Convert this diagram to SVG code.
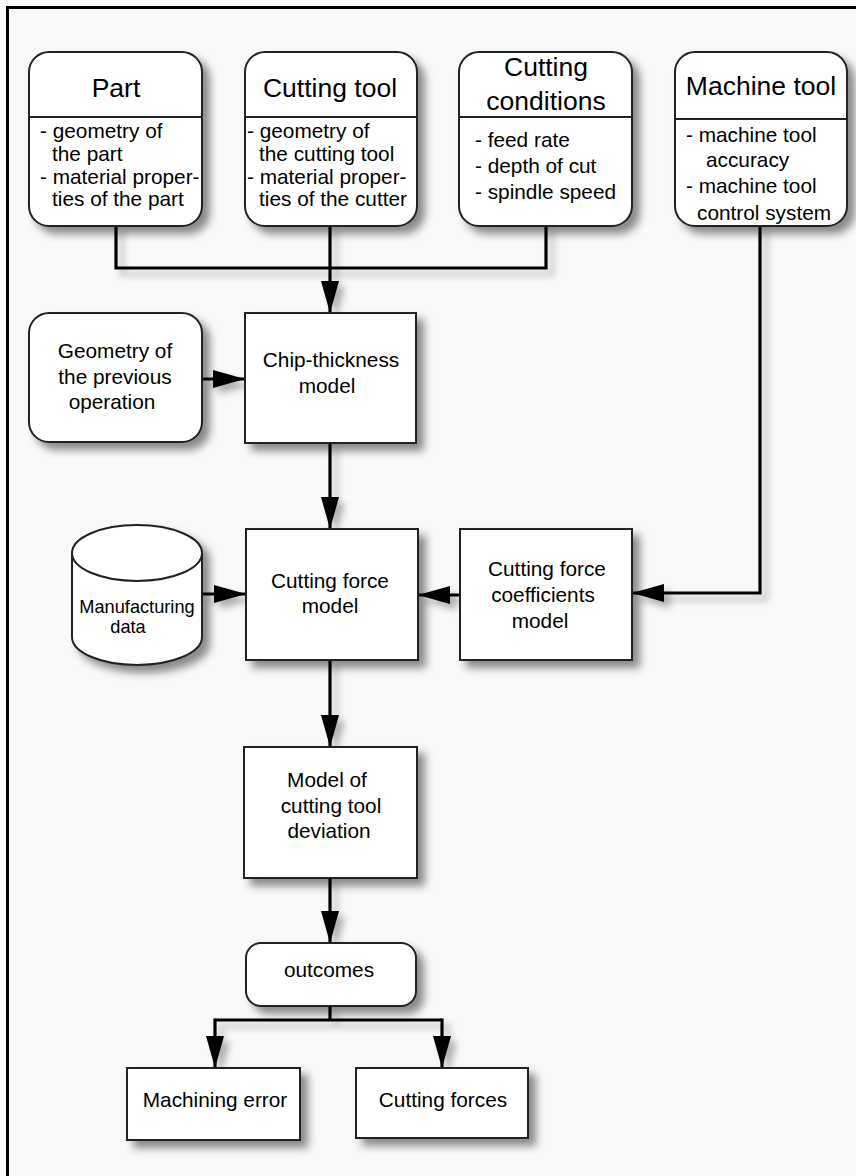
<svg xmlns="http://www.w3.org/2000/svg" width="856" height="1176" viewBox="0 0 856 1176">
<defs>
<style>
.box{fill:#ffffff;stroke:#222222;stroke-width:2;filter:url(#sh)}
.div{stroke:#222222;stroke-width:2}
.t{font-family:"Liberation Sans",Arial,sans-serif;fill:#000000}
.title{font-size:26.5px;text-anchor:middle}
.body{font-size:20.8px}
.lbl{font-size:20.8px;text-anchor:middle}
.con{fill:none;stroke:#000000;stroke-width:3.2}
</style>
<filter id="sh" x="-20%" y="-20%" width="150%" height="150%">
<feDropShadow dx="7" dy="7" stdDeviation="4" flood-color="#000000" flood-opacity="0.45"/>
</filter>
<filter id="lsh" x="-20%" y="-20%" width="150%" height="150%">
<feDropShadow dx="6" dy="6" stdDeviation="3.5" flood-color="#000000" flood-opacity="0.3"/>
</filter>
<marker id="ah" markerWidth="32" markerHeight="18" refX="32" refY="9" orient="auto" markerUnits="userSpaceOnUse">
<path d="M0,0 L32,9 L0,18 Z" fill="#000000"/>
</marker>
</defs>
<rect x="0" y="0" width="856" height="1176" fill="#fbfbfb"/>
<rect x="7.5" y="7.5" width="870" height="1190" fill="#f9f9f9" stroke="#000000" stroke-width="3"/>

<g id="connectors" filter="url(#lsh)">
<path class="con" d="M116,226 V268 H546 V226"/>
<path class="con" d="M330,226 V313" marker-end="url(#ah)"/>
<path class="con" d="M202,379 H245" marker-end="url(#ah)"/>
<path class="con" d="M330,443 V529" marker-end="url(#ah)"/>
<path class="con" d="M202,594 H246" marker-end="url(#ah)"/>
<path class="con" d="M460,595 H418" marker-end="url(#ah)"/>
<path class="con" d="M760,226 V593 H632" marker-end="url(#ah)"/>
<path class="con" d="M330,660 V747" marker-end="url(#ah)"/>
<path class="con" d="M330,878 V943" marker-end="url(#ah)"/>
<path class="con" d="M330,1006 V1020"/>
<path class="con" d="M215,1020 H442"/>
<path class="con" d="M215,1018.5 V1068" marker-end="url(#ah)"/>
<path class="con" d="M442,1018.5 V1068" marker-end="url(#ah)"/>
</g>

<g id="part">
<rect class="box" x="29" y="52" width="173" height="174" rx="20"/>
<line class="div" x1="29" y1="117" x2="202" y2="117"/>
<text class="t title" x="116" y="97">Part</text>
<text class="t body" x="40" y="138">- geometry of</text>
<text class="t body" x="52" y="161">the part</text>
<text class="t body" x="40" y="184">- material proper-</text>
<text class="t body" x="52" y="206">ties of the part</text>
</g>

<g id="cutting-tool">
<rect class="box" x="245" y="52" width="172" height="174" rx="20"/>
<line class="div" x1="245" y1="117" x2="417" y2="117"/>
<text class="t title" x="330" y="97">Cutting tool</text>
<text class="t body" x="247" y="138">- geometry of</text>
<text class="t body" x="259" y="161">the cutting tool</text>
<text class="t body" x="247" y="184">- material proper-</text>
<text class="t body" x="259" y="206">ties of the cutter</text>
</g>

<g id="cutting-conditions">
<rect class="box" x="459" y="52" width="173" height="174" rx="20"/>
<line class="div" x1="459" y1="117" x2="632" y2="117"/>
<text class="t title" x="546" y="76">Cutting</text>
<text class="t title" x="546" y="110">conditions</text>
<text class="t body" x="475" y="147">- feed rate</text>
<text class="t body" x="475" y="173">- depth of cut</text>
<text class="t body" x="475" y="199">- spindle speed</text>
</g>

<g id="machine-tool">
<rect class="box" x="675" y="52" width="172" height="174" rx="20"/>
<line class="div" x1="675" y1="119" x2="847" y2="119"/>
<text class="t title" x="761" y="95">Machine tool</text>
<text class="t body" x="686" y="142">- machine tool</text>
<text class="t body" x="706" y="167">accuracy</text>
<text class="t body" x="686" y="193">- machine tool</text>
<text class="t body" x="697" y="220">control system</text>
</g>

<g id="geometry-previous">
<rect class="box" x="29" y="313" width="173" height="129" rx="20"/>
<text class="t lbl" x="115" y="358">Geometry of</text>
<text class="t lbl" x="115" y="384">the previous</text>
<text class="t lbl" x="112" y="409">operation</text>
</g>

<g id="chip-thickness">
<rect class="box" x="245" y="313" width="171" height="130"/>
<text class="t lbl" x="331" y="367">Chip-thickness</text>
<text class="t lbl" x="327" y="393">model</text>
</g>

<g id="manufacturing-data">
<path class="box" d="M72,553 V637 A65,28 0 0 0 202,637 V553 A65,28 0 0 0 72,553 Z"/>
<path d="M72,553 A65,28 0 0 0 202,553" fill="none" stroke="#222222" stroke-width="2"/>
<text class="t" x="137" y="613" font-size="18.2" text-anchor="middle">Manufacturing</text>
<text class="t" x="128" y="633" font-size="18.2" text-anchor="middle">data</text>
</g>

<g id="cutting-force-model">
<rect class="box" x="246" y="529" width="172" height="131"/>
<text class="t lbl" x="330" y="588">Cutting force</text>
<text class="t lbl" x="330" y="613">model</text>
</g>

<g id="coefficients-model">
<rect class="box" x="460" y="529" width="172" height="131"/>
<text class="t lbl" x="547" y="576">Cutting force</text>
<text class="t lbl" x="543" y="602">coefficients</text>
<text class="t lbl" x="540" y="628">model</text>
</g>

<g id="deviation-model">
<rect class="box" x="244" y="747" width="173" height="131"/>
<text class="t lbl" x="327" y="787">Model of</text>
<text class="t lbl" x="331" y="813">cutting tool</text>
<text class="t lbl" x="329" y="838">deviation</text>
</g>

<g id="outcomes">
<rect class="box" x="246" y="943" width="170" height="63" rx="15"/>
<text class="t lbl" x="329" y="977">outcomes</text>
</g>

<g id="machining-error">
<rect class="box" x="127" y="1068" width="173" height="72"/>
<text class="t lbl" x="215" y="1107">Machining error</text>
</g>

<g id="cutting-forces">
<rect class="box" x="356" y="1068" width="172" height="70"/>
<text class="t lbl" x="443" y="1107">Cutting forces</text>
</g>
</svg>
